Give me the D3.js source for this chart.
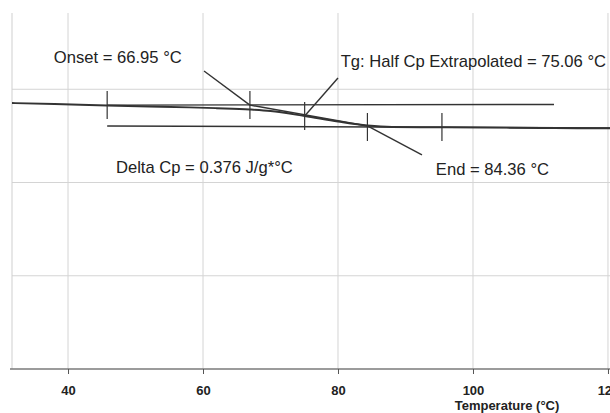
<!DOCTYPE html>
<html>
<head>
<meta charset="utf-8">
<script src="https://cdn.jsdelivr.net/npm/d3@7"></script>
<style>
  body { margin: 0; background: #fff; }
  text { font-family: "Liberation Sans", Arial, sans-serif; fill: #222; }
</style>
</head>
<body>
<svg width="610" height="413"></svg>
<script>
// DSC trace (temperature in °C, heat flow in W/g)
var temps = [31.7, 38, 45.8, 52, 58, 62, 66.95, 70, 75.06, 80, 84.36, 88, 95.4, 105, 112, 120.3];
var heatFlow = [-0.2148, -0.2158, -0.2174, -0.2185, -0.2194, -0.2203, -0.2217, -0.2233, -0.2287, -0.2346, -0.2389, -0.2405, -0.2408, -0.2412, -0.2416, -0.2419];

// construction lines of the glass transition analysis
var upperBase = [[45.8, -0.2170], [112, -0.2163]];
var lowerBase = [[45.8, -0.2394], [120.3, -0.2415]];
var tangent = [[66.95, -0.2170], [84.36, -0.2394]];
var onsetPointer = [[60.15, -0.1804], [66.95, -0.2170]];
var tgPointer = [[75.06, -0.2287], [80.0, -0.1880]];
var endPointer = [[84.36, -0.2394], [92.44, -0.2705]];

// little vertical markers on the analysis
var markerTemps = [45.8, 66.95, 75.06, 84.36, 95.4];
var markerValues = [-0.2170, -0.2170, -0.2287, -0.2405, -0.2405];

var xTicks = [40, 60, 80, 100, 120];
var yGrid = [-0.2, -0.3, -0.4];

var labels = ["Onset = 66.95 °C", "Tg: Half Cp Extrapolated = 75.06 °C", "Delta Cp = 0.376 J/g*°C", "End = 84.36 °C"];
var labelTemps = [37.9, 80.4, 47.1, 94.5];
var labelValues = [-0.1718, -0.1761, -0.2898, -0.2920];

var plotTop = 13, plotBottom = 369;

var x = d3.scaleLinear().domain([31.7, 120.3]).range([12, 610]);
var y = d3.scaleLinear().domain([-0.5, -0.1]).range([plotBottom, -4]);

var svg = d3.select('svg');

// grid
svg.append('g')
    .selectAll('line')
    .data(xTicks)
    .enter()
    .append('line')
    .attr('x1', d => x(d)).attr('x2', d => x(d))
    .attr('y1', plotTop).attr('y2', plotBottom)
    .attr('stroke', '#d4d4d4').attr('stroke-width', 1);

svg.append('g')
    .selectAll('line')
    .data(yGrid)
    .enter()
    .append('line')
    .attr('x1', x.range()[0]).attr('x2', 610)
    .attr('y1', d => y(d)).attr('y2', d => y(d))
    .attr('stroke', '#d4d4d4').attr('stroke-width', 1);

// left edge of the plot
svg.append('line')
    .attr('x1', 12).attr('x2', 12)
    .attr('y1', plotTop).attr('y2', plotBottom)
    .attr('stroke', '#cfcfcf');

// x axis
var xAxis = d3.axisBottom(x).tickValues(xTicks).tickSize(5).tickSizeOuter(0);
var ax = svg.append('g')
    .attr('transform', 'translate(0,' + plotBottom + ')')
    .call(xAxis);
ax.select('.domain').attr('stroke', '#7a7a7a').attr('stroke-width', 1.5).attr('d', 'M10,0H610');
ax.selectAll('.tick line').attr('stroke', '#555');
ax.selectAll('.tick text')
    .attr('y', 17)
    .style('font-size', '13px')
    .style('font-weight', 'bold')
    .style('font-family', '"Liberation Sans", Arial, sans-serif')
    .attr('fill', '#222');

svg.append('text')
    .attr('x', 507).attr('y', 410)
    .attr('text-anchor', 'middle')
    .style('font-size', '13px')
    .style('font-weight', 'bold')
    .text('Temperature (°C)');

var line = d3.line().x(d => x(d[0])).y(d => y(d[1]));
var ink = '#333';

// analysis lines
[upperBase, lowerBase, tangent, onsetPointer, tgPointer, endPointer].forEach(function(seg) {
    svg.append('path')
        .attr('d', line(seg))
        .attr('fill', 'none')
        .attr('stroke', ink)
        .attr('stroke-width', 1.4);
});

// the measured curve
var curve = d3.line()
    .x((d, i) => x(temps[i]))
    .y(d => y(d))
    .curve(d3.curveMonotoneX);
svg.append('path')
    .attr('d', curve(heatFlow))
    .attr('fill', 'none')
    .attr('stroke', ink)
    .attr('stroke-width', 1.9);

// markers
svg.append('g')
    .selectAll('line')
    .data(markerTemps)
    .enter()
    .append('line')
    .attr('x1', d => x(d)).attr('x2', d => x(d))
    .attr('y1', (d, i) => y(markerValues[i]) - 14)
    .attr('y2', (d, i) => y(markerValues[i]) + 14)
    .attr('stroke', ink).attr('stroke-width', 1.2);

// annotation texts
svg.append('g')
    .selectAll('text')
    .data(labels)
    .enter()
    .append('text')
    .attr('x', (d, i) => x(labelTemps[i]))
    .attr('y', (d, i) => y(labelValues[i]))
    .style('font-size', '16.6px')
    .text(d => d);
</script>
</body>
</html>
